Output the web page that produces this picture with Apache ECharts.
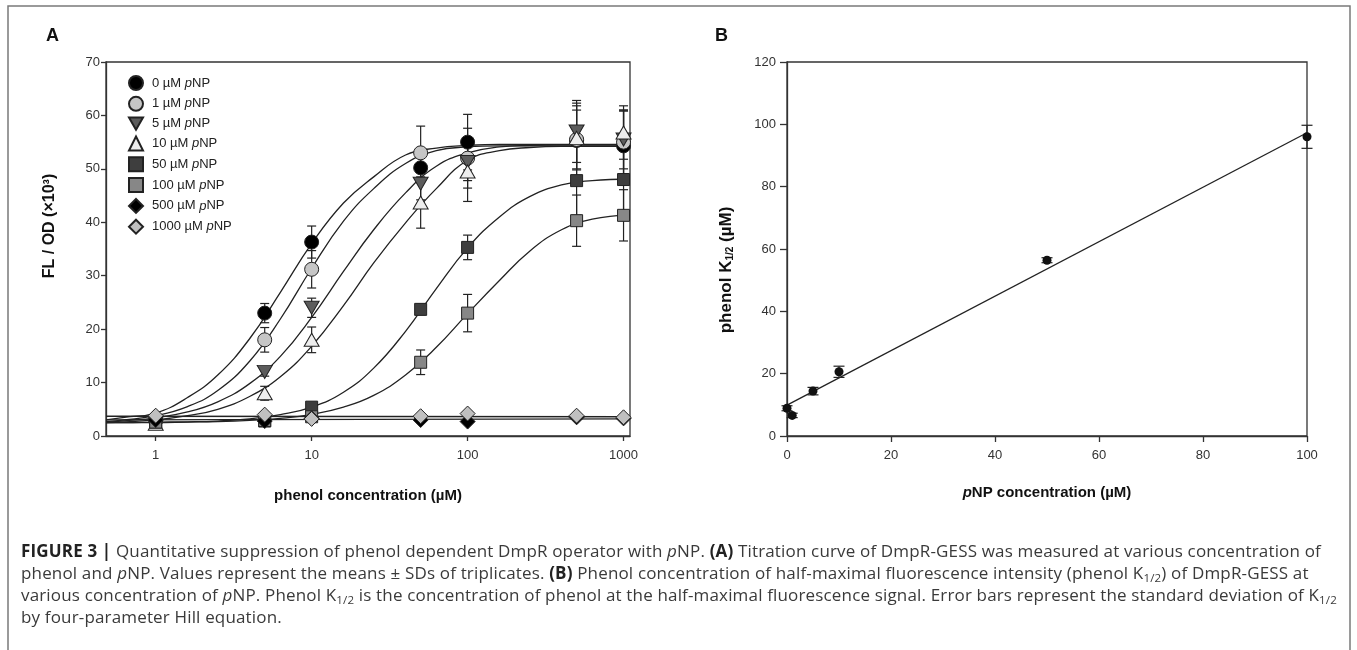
<!DOCTYPE html>
<html><head><meta charset="utf-8">
<script src="https://cdn.jsdelivr.net/npm/echarts@6/dist/echarts.min.js"></script>
<style>
html,body{margin:0;padding:0;background:#fff;}
#chart{position:absolute;left:0;top:0;width:1357px;height:650px;}
#cap{position:absolute;left:21px;top:540px;font-family:"Open Sans","Liberation Sans",Arial,sans-serif;font-size:15px;line-height:22px;color:#3a3a3a;white-space:nowrap;}
#cap b{color:#222;font-weight:700}
#cap sub{font-size:0.68em;vertical-align:-3px;line-height:0}
</style></head>
<body>
<div id="chart"></div>
<div id="cap">
<div id="cl1"><b>FIGURE 3 |</b> Quantitative suppression of phenol dependent DmpR operator with <i>p</i>NP. <b>(A)</b> Titration curve of DmpR-GESS was measured at various concentration of</div>
<div>phenol and <i>p</i>NP. Values represent the means ± SDs of triplicates. <b>(B)</b> Phenol concentration of half-maximal fluorescence intensity (phenol K<sub>1/2</sub>) of DmpR-GESS at</div>
<div>various concentration of <i>p</i>NP. Phenol K<sub>1/2</sub> is the concentration of phenol at the half-maximal fluorescence signal. Error bars represent the standard deviation of K<sub>1/2</sub></div>
<div>by four-parameter Hill equation.</div>
</div>
<script>
// ---------- Panel A data ----------
const phenolConc = [1, 5, 10, 50, 100, 500, 1000];
const groupNames = ['0 µM pNP', '1 µM pNP', '5 µM pNP', '10 µM pNP', '50 µM pNP', '100 µM pNP', '500 µM pNP', '1000 µM pNP'];

const mean0 = [2.9, 23.0, 36.3, 50.2, 55.0, 55.3, 54.3];
const sd0   = [0.4, 1.8, 3.0, 2.5, 5.2, 7.0, 6.5];
const mean1 = [3.0, 18.0, 31.2, 53.0, 52.0, 55.5, 55.0];
const sd1   = [0.3, 2.3, 3.5, 5.0, 5.6, 5.5, 6.0];
const mean5 = [2.5, 12.0, 24.0, 47.2, 51.3, 57.0, 55.5];
const sd5   = [0.3, 0.8, 1.8, 3.0, 3.5, 5.8, 5.5];
const mean10 = [2.3, 8.0, 18.0, 43.7, 49.5, 55.8, 56.8];
const sd10   = [0.3, 1.3, 2.4, 4.8, 5.6, 6.0, 5.0];
const mean50 = [2.6, 2.8, 5.4, 23.7, 35.3, 47.8, 48.0];
const sd50   = [0.2, 0.3, 0.6, 1.0, 2.3, 6.5, 7.0];
const mean100 = [2.6, 2.9, 3.6, 13.8, 23.0, 40.3, 41.3];
const sd100   = [0.2, 0.3, 0.3, 2.3, 3.5, 4.8, 4.8];
const mean500 = [3.0, 2.8, 3.3, 3.0, 2.7, 3.5, 3.3];
const sd500   = [0.2, 0.2, 0.2, 0.2, 0.2, 0.2, 0.2];
const mean1000 = [3.8, 4.0, 3.2, 3.7, 4.2, 3.8, 3.5];
const sd1000   = [0.2, 0.2, 0.2, 0.2, 0.2, 0.2, 0.2];

// fitted Hill curves at these phenol concentrations
const curveX = [0.48, 0.63, 1, 1.6, 2.5, 4, 6.3, 10, 16, 25, 40, 63, 100, 160, 250, 400, 630, 1100];
const fit0   = [3.0, 3.5, 4.3, 7.2, 11.4, 18.2, 26.9, 36.0, 43.6, 48.5, 52.6, 53.9, 54.4, 54.6, 54.6, 54.6, 54.6, 54.6];
const fit1   = [2.7, 3.0, 3.8, 5.5, 8.5, 14.0, 21.9, 31.4, 40.2, 46.3, 51.0, 53.4, 54.1, 54.3, 54.3, 54.3, 54.3, 54.3];
const fit5   = [2.6, 2.85, 3.4, 4.5, 6.4, 9.8, 14.9, 22.2, 30.8, 38.6, 45.5, 50.5, 53.0, 54.1, 54.4, 54.5, 54.5, 54.5];
const fit10  = [2.5, 2.65, 3.0, 3.8, 5.0, 7.4, 11.1, 16.8, 24.4, 32.4, 39.9, 46.3, 51.6, 53.4, 54.0, 54.2, 54.2, 54.2];
const fit50  = [2.5, 2.5, 2.6, 2.65, 2.8, 3.2, 4.0, 5.4, 8.2, 12.7, 19.6, 27.6, 35.2, 41.0, 44.8, 47.0, 47.8, 48.1];
const fit100 = [2.5, 2.5, 2.5, 2.6, 2.7, 2.93, 3.3, 4.03, 5.4, 7.6, 11.4, 16.6, 22.9, 29.1, 34.6, 38.6, 40.6, 41.4];
const flatX = [0.48, 1100];
const fit500  = [3.0, 3.2];
const fit1000 = [3.7, 3.6];

// ---------- Panel B data ----------
const pnpConc = [0, 1, 5, 10, 50, 100];
const k12     = [8.9, 6.6, 14.4, 20.6, 56.4, 96.0];
const k12sd   = [0.8, 0.7, 1.2, 1.8, 0.8, 3.7];
const lineBX  = [0, 100];
const lineBY  = [9.9, 97.3];

const yTicksA = { min: 0, max: 70, interval: 10 };
const yTicksB = { min: 0, max: 120, interval: 20 };
const xTicksB = { min: 0, max: 100, interval: 20 };

// ---------- helpers ----------
const FONT = '"Liberation Sans", Arial, sans-serif';
const zip = (xs, ys) => xs.map((x, i) => [x, ys[i]]);
const zip3 = (xs, ys, es) => xs.map((x, i) => [x, ys[i], es[i]]);
const AX = '#333';
const DOWN_TRI = 'path://M0,0L20,0L10,17.3Z';

function errRender(cap) {
  return function (params, api) {
    const x = api.value(0), y = api.value(1), e = api.value(2);
    const t = api.coord([x, y + e]), b = api.coord([x, y - e]);
    const st = { stroke: '#222', lineWidth: 1.2, fill: null };
    return { type: 'group', children: [
      { type: 'line', shape: { x1: t[0], y1: t[1], x2: b[0], y2: b[1] }, style: st },
      { type: 'line', shape: { x1: t[0] - cap, y1: t[1], x2: t[0] + cap, y2: t[1] }, style: st },
      { type: 'line', shape: { x1: b[0] - cap, y1: b[1], x2: b[0] + cap, y2: b[1] }, style: st }
    ] };
  };
}

const groups = [
  { mean: mean0, sd: sd0, fitY: fit0, fitX: curveX, symbol: 'circle', color: '#000000', size: 14 },
  { mean: mean1, sd: sd1, fitY: fit1, fitX: curveX, symbol: 'circle', color: '#c6c6c6', size: 14 },
  { mean: mean5, sd: sd5, fitY: fit5, fitX: curveX, symbol: DOWN_TRI, color: '#5c5c5c', size: [15, 13] },
  { mean: mean10, sd: sd10, fitY: fit10, fitX: curveX, symbol: 'triangle', color: '#eeeeee', size: [15, 13] },
  { mean: mean50, sd: sd50, fitY: fit50, fitX: curveX, symbol: 'rect', color: '#3e3e3e', size: 12 },
  { mean: mean100, sd: sd100, fitY: fit100, fitX: curveX, symbol: 'rect', color: '#878787', size: 12 },
  { mean: mean500, sd: sd500, fitY: fit500, fitX: flatX, symbol: 'diamond', color: '#000000', size: 15 },
  { mean: mean1000, sd: sd1000, fitY: fit1000, fitX: flatX, symbol: 'diamond', color: '#c0c0c0', size: 15 }
];

const series = [];
groups.forEach((g, i) => {
  series.push({
    type: 'line', xAxisIndex: 0, yAxisIndex: 0, name: 'fit' + i,
    data: zip(g.fitX, g.fitY), smooth: 0.45, showSymbol: false, symbol: 'none',
    lineStyle: { color: '#222', width: 1.3 }, z: 2, silent: true, animation: false
  });
});
groups.forEach((g, i) => {
  series.push({
    type: 'custom', xAxisIndex: 0, yAxisIndex: 0, name: 'err' + i,
    data: zip3(phenolConc, g.mean, g.sd), renderItem: errRender(4.5),
    encode: { x: 0, y: 1 }, z: 3, silent: true, animation: false
  });
});
groups.forEach((g, i) => {
  series.push({
    type: 'scatter', xAxisIndex: 0, yAxisIndex: 0, name: groupNames[i],
    data: zip(phenolConc, g.mean), symbol: g.symbol, symbolSize: g.size,
    itemStyle: { color: g.color, borderColor: '#222', borderWidth: 1, opacity: 1 },
    z: 4, animation: false
  });
});
// Panel B
series.push({
  type: 'line', xAxisIndex: 1, yAxisIndex: 1, name: 'fitB', data: zip(lineBX, lineBY),
  showSymbol: false, symbol: 'none', lineStyle: { color: '#222', width: 1.3 }, z: 2, animation: false
});
series.push({
  type: 'custom', xAxisIndex: 1, yAxisIndex: 1, name: 'errB', data: zip3(pnpConc, k12, k12sd),
  renderItem: errRender(5.5), encode: { x: 0, y: 1 }, z: 3, animation: false
});
series.push({
  type: 'scatter', xAxisIndex: 1, yAxisIndex: 1, name: 'K12', data: zip(pnpConc, k12),
  symbol: 'circle', symbolSize: 9, itemStyle: { color: '#111', opacity: 1 }, z: 4, animation: false
});

const axisCommon = (tickLen, margin) => ({
  axisLine: { show: true, lineStyle: { color: AX, width: 1.3 } },
  axisTick: { show: true, inside: false, length: tickLen, lineStyle: { color: AX, width: 1.3 } },
  axisLabel: { color: '#333', fontSize: 13, fontFamily: FONT, margin: margin },
  splitLine: { show: false }
});

const option = {
  backgroundColor: '#fff',
  animation: false,
  grid: [
    { left: 106, right: 727, top: 62, bottom: 214, show: true, borderColor: AX, borderWidth: 1.3, backgroundColor: 'transparent' },
    { left: 787, right: 50, top: 62, bottom: 214, show: true, borderColor: AX, borderWidth: 1.3, backgroundColor: 'transparent' }
  ],
  xAxis: [
    Object.assign({ type: 'log', gridIndex: 0, logBase: 10, min: 0.48, max: 1100, splitNumber: 3 }, axisCommon(5, 13),
      { axisLabel: { color: '#333', fontSize: 13, fontFamily: FONT, margin: 13, showMinLabel: false, showMaxLabel: false, formatter: v => String(Math.round(v)) }, minorTick: { show: false } }),
    Object.assign({ type: 'value', gridIndex: 1 }, xTicksB, axisCommon(6, 13))
  ],
  yAxis: [
    Object.assign({ type: 'value', gridIndex: 0 }, yTicksA, axisCommon(5, 6)),
    Object.assign({ type: 'value', gridIndex: 1 }, yTicksB, axisCommon(7, 11))
  ],
  legend: {
    data: groupNames, orient: 'vertical', left: 128, top: 75, padding: 0, itemWidth: 14, itemHeight: 14, itemGap: 4.8,
    selectedMode: false,
    formatter: n => '{t|' + n.replace(' pNP', '') + ' }{i|p}{t|NP}',
    textStyle: {
      color: '#222', fontSize: 13, fontFamily: FONT, padding: [0, 0, 0, 4],
      rich: { t: { fontSize: 13, fontFamily: FONT, color: '#222' }, i: { fontSize: 13, fontFamily: FONT, color: '#222', fontStyle: 'italic' } }
    }
  },
  graphic: [
    { type: 'rect', shape: { x: 8, y: 6, width: 1342, height: 660 }, style: { fill: null, stroke: '#7a7a7a', lineWidth: 1.5 }, silent: true, z: -1 },
    { type: 'text', x: 46, y: 36, style: { text: 'A', fontSize: 18, fontWeight: 'bold', fontFamily: FONT, fill: '#111', align: 'left', verticalAlign: 'middle' } },
    { type: 'text', x: 715, y: 36, style: { text: 'B', fontSize: 18, fontWeight: 'bold', fontFamily: FONT, fill: '#111', align: 'left', verticalAlign: 'middle' } },
    { type: 'text', x: 50, y: 226, rotation: Math.PI / 2, style: { text: 'FL / OD (×10³)', fontSize: 16, fontWeight: 'bold', fontFamily: FONT, fill: '#111', align: 'center', verticalAlign: 'middle' } },
    { type: 'text', x: 368, y: 496, style: { text: 'phenol concentration (µM)', fontSize: 15, fontWeight: 'bold', fontFamily: FONT, fill: '#111', align: 'center', verticalAlign: 'middle' } },
    { type: 'text', x: 725, y: 270, rotation: Math.PI / 2, style: {
      text: '{b|phenol K}{s|1/2}{b| (µM)}', align: 'center', verticalAlign: 'middle',
      rich: { b: { fontSize: 17, fontWeight: 'bold', fontFamily: FONT, fill: '#111', lineHeight: 20, verticalAlign: 'bottom' },
              s: { fontSize: 10, fontWeight: 'bold', fontFamily: FONT, fill: '#111', lineHeight: 20, verticalAlign: 'bottom' } } } },
    { type: 'text', x: 1047, y: 493, style: {
      text: '{bi|p}{b|NP concentration (µM)}', align: 'center', verticalAlign: 'middle',
      rich: { b: { fontSize: 15, fontWeight: 'bold', fontFamily: FONT, fill: '#111' },
              bi: { fontSize: 15, fontWeight: 'bold', fontStyle: 'italic', fontFamily: FONT, fill: '#111' } } } }
  ],
  series: series
};

const chart = echarts.init(document.getElementById('chart'), null, { renderer: 'canvas' });
chart.setOption(option);

// size the caption so its first line spans the reference width
(function () {
  const cap = document.getElementById('cap');
  const l1 = document.getElementById('cl1');
  const r = document.createRange(); r.selectNodeContents(l1);
  const w = r.getBoundingClientRect().width;
  const target = 1300;
  let fs = 15 * target / w;
  fs = Math.max(13, Math.min(17, fs));
  cap.style.fontSize = fs.toFixed(2) + 'px';
  const w2 = r.getBoundingClientRect().width;
  const ls = (target - w2) / l1.textContent.length;
  cap.style.letterSpacing = ls.toFixed(3) + 'px';
})();
</script>
</body></html>
